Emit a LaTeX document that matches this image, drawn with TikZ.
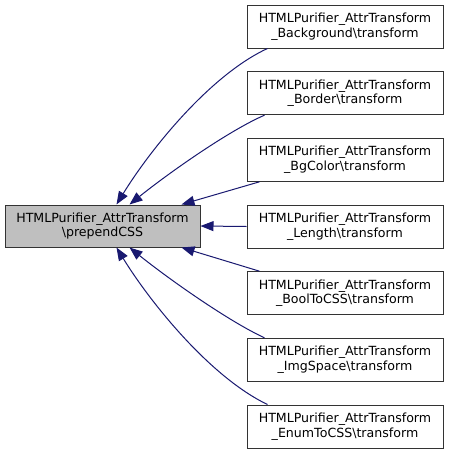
\documentclass[tikz,border=0pt]{standalone}
\usepackage{fontspec}
\setmainfont{DejaVu Sans}
\usetikzlibrary{arrows.meta}
\definecolor{edgeblue}{RGB}{25,25,112}
\definecolor{boxgray}{RGB}{191,191,191}

\begin{document}
\begin{tikzpicture}[x=1pt,y=-1pt,
    fn/.style={draw=black!80,line width=1pt,minimum width=196pt,minimum height=43pt,
      inner sep=0pt,align=center,font=\fontsize{12.6}{14.8}\selectfont},
    call/.style={edgeblue,line width=1pt,-{Triangle[length=13pt,width=10pt]}}]
    \useasboundingbox (0,0) rectangle (448,453);
    \node[fn,fill=boxgray,minimum width=195pt,minimum height=42pt] (prepend) at (102.5,226) {HTMLPurifier\_AttrTransform\\\textbackslash prependCSS};
    \node[fn] (bg) at (345,26.5) {HTMLPurifier\_AttrTransform\\\_Background\textbackslash transform};
    \node[fn] (border) at (345,93.2) {HTMLPurifier\_AttrTransform\\\_Border\textbackslash transform};
    \node[fn] (bgcolor) at (345,159.8) {HTMLPurifier\_AttrTransform\\\_BgColor\textbackslash transform};
    \node[fn] (length) at (345,226.5) {HTMLPurifier\_AttrTransform\\\_Length\textbackslash transform};
    \node[fn] (booltocss) at (345,293.2) {HTMLPurifier\_AttrTransform\\\_BoolToCSS\textbackslash transform};
    \node[fn] (imgspace) at (345,359.8) {HTMLPurifier\_AttrTransform\\\_ImgSpace\textbackslash transform};
    \node[fn] (enumtocss) at (345,426.5) {HTMLPurifier\_AttrTransform\\\_EnumToCSS\textbackslash transform};
    % callers above
    \draw[call] ([xshift=21pt]bg.south west) .. controls (210,75) and (150,150) .. ([xshift=112pt]prepend.north west);
    \draw[call] ([xshift=18pt]border.south west) .. controls (230,130) and (170,172) .. ([xshift=125pt]prepend.north west);
    \draw[call] ([xshift=13pt]bgcolor.south west) -- ([xshift=177pt]prepend.north west);
    \draw[call] (length.west) -- (prepend.east);
    % callers below
    \draw[call] ([xshift=13pt]booltocss.north west) -- ([xshift=177pt]prepend.south west);
    \draw[call] ([xshift=18pt]imgspace.north west) .. controls (230,322) and (170,280) .. ([xshift=125pt]prepend.south west);
    \draw[call] ([xshift=21pt]enumtocss.north west) .. controls (210,377) and (150,302) .. ([xshift=112pt]prepend.south west);
\end{tikzpicture}
\end{document}
